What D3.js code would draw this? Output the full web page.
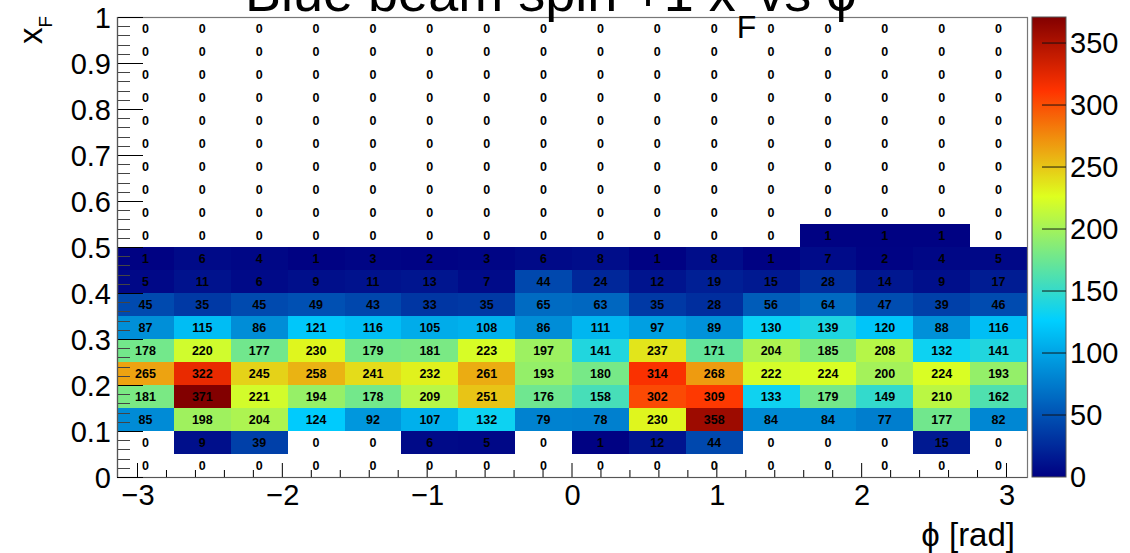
<!DOCTYPE html>
<html>
<head>
<meta charset="utf-8">
<script src="https://cdn.jsdelivr.net/npm/d3@7"></script>
<style>
  html, body { margin: 0; padding: 0; background: #fff; }
  svg { display: block; font-family: "Liberation Sans", Arial, Helvetica, sans-serif; }
</style>
</head>
<body>
<svg id="chart" width="1130" height="553"></svg>
<script>
// ---------------- DATA ----------------
const titleMain = "Blue beam spin +1 x";
const titleSub = "F";
const titleTail = " vs \u03D5";
const xTitle = "\u03D5 [rad]";
const yTitleMain = "x";
const yTitleSub = "F";

const nPhiBins = 16;            // phi bins from -pi to pi
const xfEdges = [0, 0.05, 0.10, 0.15, 0.20, 0.25, 0.30, 0.35, 0.40, 0.45, 0.50,
                 0.55, 0.60, 0.65, 0.70, 0.75, 0.80, 0.85, 0.90, 0.95, 1.00];

// counts per xF bin (left to right in phi)
const xf000_005 = [0, 0, 0, 0, 0, 0, 0, 0, 0, 0, 0, 0, 0, 0, 0, 0];
const xf005_010 = [0, 9, 39, 0, 0, 6, 5, 0, 1, 12, 44, 0, 0, 0, 15, 0];
const xf010_015 = [85, 198, 204, 124, 92, 107, 132, 79, 78, 230, 358, 84, 84, 77, 177, 82];
const xf015_020 = [181, 371, 221, 194, 178, 209, 251, 176, 158, 302, 309, 133, 179, 149, 210, 162];
const xf020_025 = [265, 322, 245, 258, 241, 232, 261, 193, 180, 314, 268, 222, 224, 200, 224, 193];
const xf025_030 = [178, 220, 177, 230, 179, 181, 223, 197, 141, 237, 171, 204, 185, 208, 132, 141];
const xf030_035 = [87, 115, 86, 121, 116, 105, 108, 86, 111, 97, 89, 130, 139, 120, 88, 116];
const xf035_040 = [45, 35, 45, 49, 43, 33, 35, 65, 63, 35, 28, 56, 64, 47, 39, 46];
const xf040_045 = [5, 11, 6, 9, 11, 13, 7, 44, 24, 12, 19, 15, 28, 14, 9, 17];
const xf045_050 = [1, 6, 4, 1, 3, 2, 3, 6, 8, 1, 8, 1, 7, 2, 4, 5];
const xf050_055 = [0, 0, 0, 0, 0, 0, 0, 0, 0, 0, 0, 0, 1, 1, 1, 0];
const xf055_060 = [0, 0, 0, 0, 0, 0, 0, 0, 0, 0, 0, 0, 0, 0, 0, 0];
const xf060_065 = [0, 0, 0, 0, 0, 0, 0, 0, 0, 0, 0, 0, 0, 0, 0, 0];
const xf065_070 = [0, 0, 0, 0, 0, 0, 0, 0, 0, 0, 0, 0, 0, 0, 0, 0];
const xf070_075 = [0, 0, 0, 0, 0, 0, 0, 0, 0, 0, 0, 0, 0, 0, 0, 0];
const xf075_080 = [0, 0, 0, 0, 0, 0, 0, 0, 0, 0, 0, 0, 0, 0, 0, 0];
const xf080_085 = [0, 0, 0, 0, 0, 0, 0, 0, 0, 0, 0, 0, 0, 0, 0, 0];
const xf085_090 = [0, 0, 0, 0, 0, 0, 0, 0, 0, 0, 0, 0, 0, 0, 0, 0];
const xf090_095 = [0, 0, 0, 0, 0, 0, 0, 0, 0, 0, 0, 0, 0, 0, 0, 0];
const xf095_100 = [0, 0, 0, 0, 0, 0, 0, 0, 0, 0, 0, 0, 0, 0, 0, 0];

const xTickLabels = [-3, -2, -1, 0, 1, 2, 3];
const yTickLabels = [0, 0.1, 0.2, 0.3, 0.4, 0.5, 0.6, 0.7, 0.8, 0.9, 1];
const zTickLabels = [0, 50, 100, 150, 200, 250, 300, 350];

// palette stops (ROOT-style jet)
const palStops = [0.00, 0.34, 0.61, 0.84, 1.00];
const palColors = ["rgb(0,0,130)", "rgb(0,207,255)", "rgb(222,255,31)", "rgb(255,51,0)", "rgb(130,0,0)"];

// ---------------- DRAW ----------------
const rows = [xf000_005, xf005_010, xf010_015, xf015_020, xf020_025, xf025_030, xf030_035,
  xf035_040, xf040_045, xf045_050, xf050_055, xf055_060, xf060_065, xf065_070, xf070_075,
  xf075_080, xf080_085, xf085_090, xf090_095, xf095_100];

const svg = d3.select("#chart");
const L = 117, R = 1027, T = 17, B = 477;
const x = d3.scaleLinear().domain([-Math.PI, Math.PI]).range([L, R]);
const y = d3.scaleLinear().domain([0, 1]).range([B, T]);
const zmax = d3.max(rows.flat());
const color = d3.scaleLinear().domain(palStops.map(s => s * zmax)).range(palColors)
  .interpolate(d3.interpolateRgb);

const phiEdge = j => -Math.PI + j * 2 * Math.PI / nPhiBins;

const cells = [];
rows.forEach((row, i) => row.forEach((v, j) => cells.push({i, j, v})));

// cells
svg.append("g").selectAll("rect").data(cells.filter(d => d.v > 0)).join("rect")
  .attr("x", d => x(phiEdge(d.j)))
  .attr("y", d => y(xfEdges[d.i + 1]))
  .attr("width", d => x(phiEdge(d.j + 1)) - x(phiEdge(d.j)))
  .attr("height", d => y(xfEdges[d.i]) - y(xfEdges[d.i + 1]))
  .attr("fill", d => color(d.v))
  .attr("shape-rendering", "crispEdges");

// frame
svg.append("rect").attr("x", L + 0.5).attr("y", T + 0.5).attr("width", R - L).attr("height", B - T)
  .attr("fill", "none").attr("stroke", "#777").attr("stroke-width", 1.2);

// text in cells
svg.append("g").selectAll("text").data(cells).join("text")
  .attr("x", d => x((phiEdge(d.j) + phiEdge(d.j + 1)) / 2))
  .attr("y", d => y((xfEdges[d.i] + xfEdges[d.i + 1]) / 2))
  .attr("dy", "0.36em")
  .attr("text-anchor", "middle")
  .attr("font-size", 12.5).attr("font-weight", "bold").attr("fill", "#000")
  .text(d => d.v);

// x axis
const xAxis = d3.axisBottom(x).tickValues(xTickLabels).tickSize(0).tickPadding(0)
  .tickFormat(d => d < 0 ? "\u2212" + Math.abs(d) : String(d));
const gx = svg.append("g").attr("transform", `translate(0,${B})`).call(xAxis);
gx.select(".domain").remove();
gx.selectAll(".tick text").attr("font-size", 29).attr("fill", "#000")
  .attr("font-family", "Liberation Sans, Arial, sans-serif").attr("dy", null).attr("y", 28);
// minor ticks at 0.2 spacing
const xMinorTicks = d3.range(-15, 16).map(k => k * 0.2).filter(v => v > -Math.PI && v < Math.PI && Math.abs(v - Math.round(v)) > 1e-6);
svg.append("g").selectAll("line").data(xMinorTicks).join("line")
  .attr("x1", d => x(d)).attr("x2", d => x(d)).attr("y1", B).attr("y2", B - 7)
  .attr("stroke", "#000").attr("stroke-width", 1);
svg.append("g").selectAll("line").data(xTickLabels).join("line")
  .attr("x1", d => x(d)).attr("x2", d => x(d)).attr("y1", B).attr("y2", B - 14)
  .attr("stroke", "#000").attr("stroke-width", 1);
svg.append("line").attr("x1", L).attr("x2", R).attr("y1", B + 0.5).attr("y2", B + 0.5)
  .attr("stroke", "#555").attr("stroke-width", 1.2);

// y axis
const yAxis = d3.axisLeft(y).tickValues(yTickLabels).tickSize(0).tickPadding(6)
  .tickFormat(d => String(d));
const gy = svg.append("g").attr("transform", `translate(${L},0)`).call(yAxis);
gy.select(".domain").remove();
gy.selectAll(".tick text").attr("font-size", 29).attr("fill", "#000")
  .attr("font-family", "Liberation Sans, Arial, sans-serif").attr("dy", "0.36em");
const yMinorTicks = d3.range(0, 51).map(k => k * 0.02).filter(v => Math.abs(v * 10 - Math.round(v * 10)) > 1e-6);
svg.append("g").selectAll("line").data(yMinorTicks).join("line")
  .attr("x1", L).attr("x2", L + 13).attr("y1", d => Math.round(y(d)) + 0.5).attr("y2", d => Math.round(y(d)) + 0.5)
  .attr("stroke", "#444").attr("stroke-width", 1);
svg.append("g").selectAll("line").data(yTickLabels).join("line")
  .attr("x1", L).attr("x2", L + 26).attr("y1", d => Math.round(y(d)) + 0.5).attr("y2", d => Math.round(y(d)) + 0.5)
  .attr("stroke", "#000").attr("stroke-width", 1);
svg.append("line").attr("x1", L + 0.5).attr("x2", L + 0.5).attr("y1", T).attr("y2", B)
  .attr("stroke", "#555").attr("stroke-width", 1.2);

// colour bar
const CL = 1032, CR = 1066;
const z = d3.scaleLinear().domain([0, zmax]).range([B, T]);
const defs = svg.append("defs");
const grad = defs.append("linearGradient").attr("id", "pal")
  .attr("x1", 0).attr("y1", 1).attr("x2", 0).attr("y2", 0);
d3.range(0, 101).forEach(k => {
  grad.append("stop").attr("offset", k / 100).attr("stop-color", color(k / 100 * zmax));
});
svg.append("rect").attr("x", CL).attr("y", T).attr("width", CR - CL).attr("height", B - T)
  .attr("fill", "url(#pal)").attr("stroke", "#555").attr("stroke-width", 1);
svg.append("g").selectAll("line").data(zTickLabels.filter(v => v > 0)).join("line")
  .attr("x1", CR - 24).attr("x2", CR).attr("y1", d => z(d)).attr("y2", d => z(d))
  .attr("stroke", "#111").attr("stroke-width", 1.2).attr("opacity", 0.8);
svg.append("g").selectAll("text").data(zTickLabels).join("text")
  .attr("x", CR + 4).attr("y", d => z(d)).attr("dy", "0.36em")
  .attr("font-size", 29).attr("fill", "#000")
  .text(d => d);

// title (cut off at the top edge, as in the reference)
const tg = svg.append("g");
const t1 = tg.append("text").attr("x", 245).attr("y", 11).attr("font-size", 54).text(titleMain);
const w1 = t1.node().getComputedTextLength();
const t2 = tg.append("text").attr("x", 245 + w1 + 1).attr("y", 38).attr("font-size", 32).text(titleSub);
const w2 = t2.node().getComputedTextLength();
tg.append("text").attr("x", 245 + w1 + w2 + 2).attr("y", 11).attr("font-size", 54).text(titleTail);

// axis titles
svg.append("text").attr("x", 1015).attr("y", 546).attr("text-anchor", "end")
  .attr("font-size", 33).text(xTitle);
const yt = svg.append("g").attr("transform", "translate(42,44) rotate(-90)");
const yt1 = yt.append("text").attr("x", 0).attr("y", 0).attr("font-size", 33).text(yTitleMain);
const yw = yt1.node().getComputedTextLength();
yt.append("text").attr("x", yw).attr("y", 10).attr("font-size", 19).text(yTitleSub);
</script>
</body>
</html>
